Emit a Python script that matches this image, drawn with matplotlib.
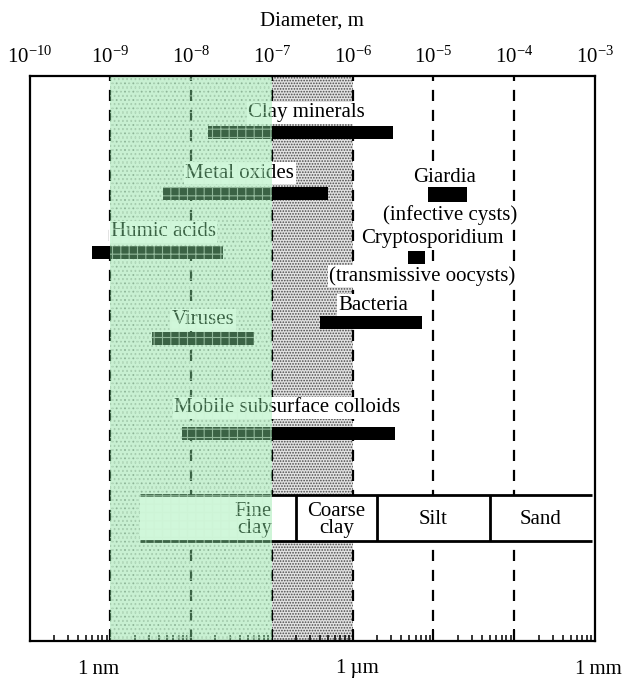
import math
import matplotlib
matplotlib.use("Agg")
import matplotlib.pyplot as plt
from matplotlib.patches import Rectangle
from matplotlib.ticker import LogLocator, FixedLocator, FuncFormatter, NullFormatter

plt.rcParams["font.family"] = ["Liberation Serif", "DejaVu Serif"]
plt.rcParams["mathtext.fontset"] = "custom"
plt.rcParams["mathtext.rm"] = "Liberation Serif"
plt.rcParams["hatch.linewidth"] = 0.8

# ---- data: particle size ranges (diameter, m) ----
particles = ["Clay minerals", "Metal oxides", "Humic acids", "Viruses",
             "Bacteria", "Mobile subsurface colloids", "Giardia", "Cryptosporidium"]
size_min = [1.6e-8, 4.5e-9, 6.0e-10, 3.3e-9, 3.9e-7, 7.8e-9, 8.5e-6, 4.8e-6]
size_max = [3.2e-6, 5.0e-7, 2.5e-8, 6.0e-8, 7.2e-6, 3.3e-6, 2.6e-5, 7.9e-6]
subtitles = ["", "", "", "", "", "", "(infective cysts)", "(transmissive oocysts)"]

# soil texture classes and their boundaries (m)
soil_names = ["Fine\nclay", "Coarse\nclay", "Silt", "Sand"]
soil_bounds = [2.3e-9, 2.0e-7, 2.0e-6, 5.0e-5, 9.2e-4]

# axis decades and unit marks
decade_exponents = list(range(-10, -2))
unit_labels = ["1\u2009nm", "1\u2009\u00b5m", "1\u2009mm"]
unit_values = [1e-9, 1e-6, 1e-3]

# ---- layout (vertical positions in pixel-like units from the top) ----
Y_TOP, Y_BOT = 76, 641
bar_rows = [132, 193, 252, 338, 322, 433, 194, 257]
bar_heights = [13, 13, 13, 13, 13, 13, 15, 13]
label_x = [2.7e-7, 4.0e-8, 4.5e-9, 1.4e-8, 1.8e-6, 1.55e-7, 1.39e-5, 9.6e-6]
label_y = [113, 173, 232, 320, 305, 408, 177, 239]
sub_x = [None] * 6 + [1.6e-5, 7.3e-6]
sub_y = [None] * 6 + [215, 276]
soil_top, soil_bot = 495, 541
fine_clay_anchor = 1.0e-7
unit_offsets = [-12, 5, 3]

FS = 15
GREEN = (143 / 255, 238 / 255, 167 / 255)

fig = plt.figure(figsize=(6.24, 6.8), dpi=100)
W, H = 624, 680
ax = fig.add_axes([29.5 / W, (H - Y_BOT) / H, (595 - 29.5) / W, (Y_BOT - Y_TOP) / H])
ax.set_xscale("log")
ax.set_xlim(10.0 ** decade_exponents[0], 10.0 ** decade_exponents[-1])
ax.set_ylim(Y_BOT, Y_TOP)
ax.set_yticks([])

# speckled background bands
ax.axvspan(1e-9, 1e-7, facecolor="#f2f2f2", edgecolor="#8c8c8c", hatch="....", lw=0, zorder=0)
ax.axvspan(1e-7, 1e-6, facecolor="#e2e2e2", edgecolor="#4a4a4a", hatch="......", lw=0, zorder=0)

# dashed decade lines
for e in decade_exponents[1:-1]:
    ax.axvline(10.0 ** e, color="black", lw=1.6, ls=(0, (5, 4)), zorder=1)

# particle bars and labels
for i, name in enumerate(particles):
    ax.barh(bar_rows[i], size_max[i] - size_min[i], left=size_min[i],
            height=bar_heights[i], color="black", zorder=4)
    ax.text(label_x[i], label_y[i], name, ha="center", va="center", fontsize=FS,
            zorder=3, bbox=dict(facecolor="white", edgecolor="none", pad=1.0))
    if subtitles[i]:
        ax.text(sub_x[i], sub_y[i], subtitles[i], ha="center", va="center", fontsize=FS,
                zorder=3, bbox=dict(facecolor="white", edgecolor="none", pad=1.0))

# soil texture strip
ax.add_patch(Rectangle((soil_bounds[0], soil_top), soil_bounds[-1] - soil_bounds[0],
                       soil_bot - soil_top, facecolor="white", edgecolor="none", zorder=3))
ax.hlines([soil_top, soil_bot], soil_bounds[0], soil_bounds[-1], color="black", lw=2.0, zorder=4)
ax.vlines(soil_bounds[1:-1], soil_top, soil_bot, color="black", lw=2.0, zorder=4)
ymid = (soil_top + soil_bot) / 2 + 2
for j, name in enumerate(soil_names):
    lo, hi = soil_bounds[j], soil_bounds[j + 1]
    if j == 0:
        ax.text(fine_clay_anchor, ymid, name, ha="right", va="center", fontsize=FS,
                linespacing=0.85, multialignment="right", zorder=5)
    else:
        ax.text((lo * hi) ** 0.5, ymid, name, ha="center", va="center", fontsize=FS,
                linespacing=0.85, zorder=5)

# translucent green band with a fine grid
ax.axvspan(1e-9, 1e-7, facecolor=GREEN, alpha=0.42, lw=0, zorder=10)
ax.axvspan(1e-9, 1e-7, facecolor="none", edgecolor=(0.80, 0.95, 0.83), hatch="++",
           lw=0, alpha=0.6, zorder=11)

# ticks: labels on top, inward ticks on bottom
ax.xaxis.set_major_locator(FixedLocator([10.0 ** e for e in decade_exponents]))
ax.xaxis.set_minor_locator(LogLocator(base=10, subs=range(2, 10), numticks=30))
ax.xaxis.set_major_formatter(
    FuncFormatter(lambda v, p: r"$\mathregular{10^{%d}}$" % round(math.log10(v))))
ax.xaxis.set_minor_formatter(NullFormatter())
ax.tick_params(axis="x", which="major", direction="in", length=9, width=1.4,
               bottom=True, top=False, labelbottom=False, labeltop=True,
               labelsize=FS, pad=6)
ax.tick_params(axis="x", which="minor", direction="in", length=4, width=1.1,
               bottom=True, top=False)
for s in ax.spines.values():
    s.set_linewidth(1.6)
    s.set_zorder(12)

# unit labels below the axis
for lab, v, off in zip(unit_labels, unit_values, unit_offsets):
    ax.annotate(lab, xy=(v, Y_BOT), xytext=(off, -28), textcoords="offset pixels",
                ha="center", va="center", fontsize=FS, annotation_clip=False)

fig.text(0.5 * (29.5 + 595) / W, 1 - 21 / H, "Diameter, m", ha="center", va="center", fontsize=FS)

fig.savefig("out.png", dpi=100)
